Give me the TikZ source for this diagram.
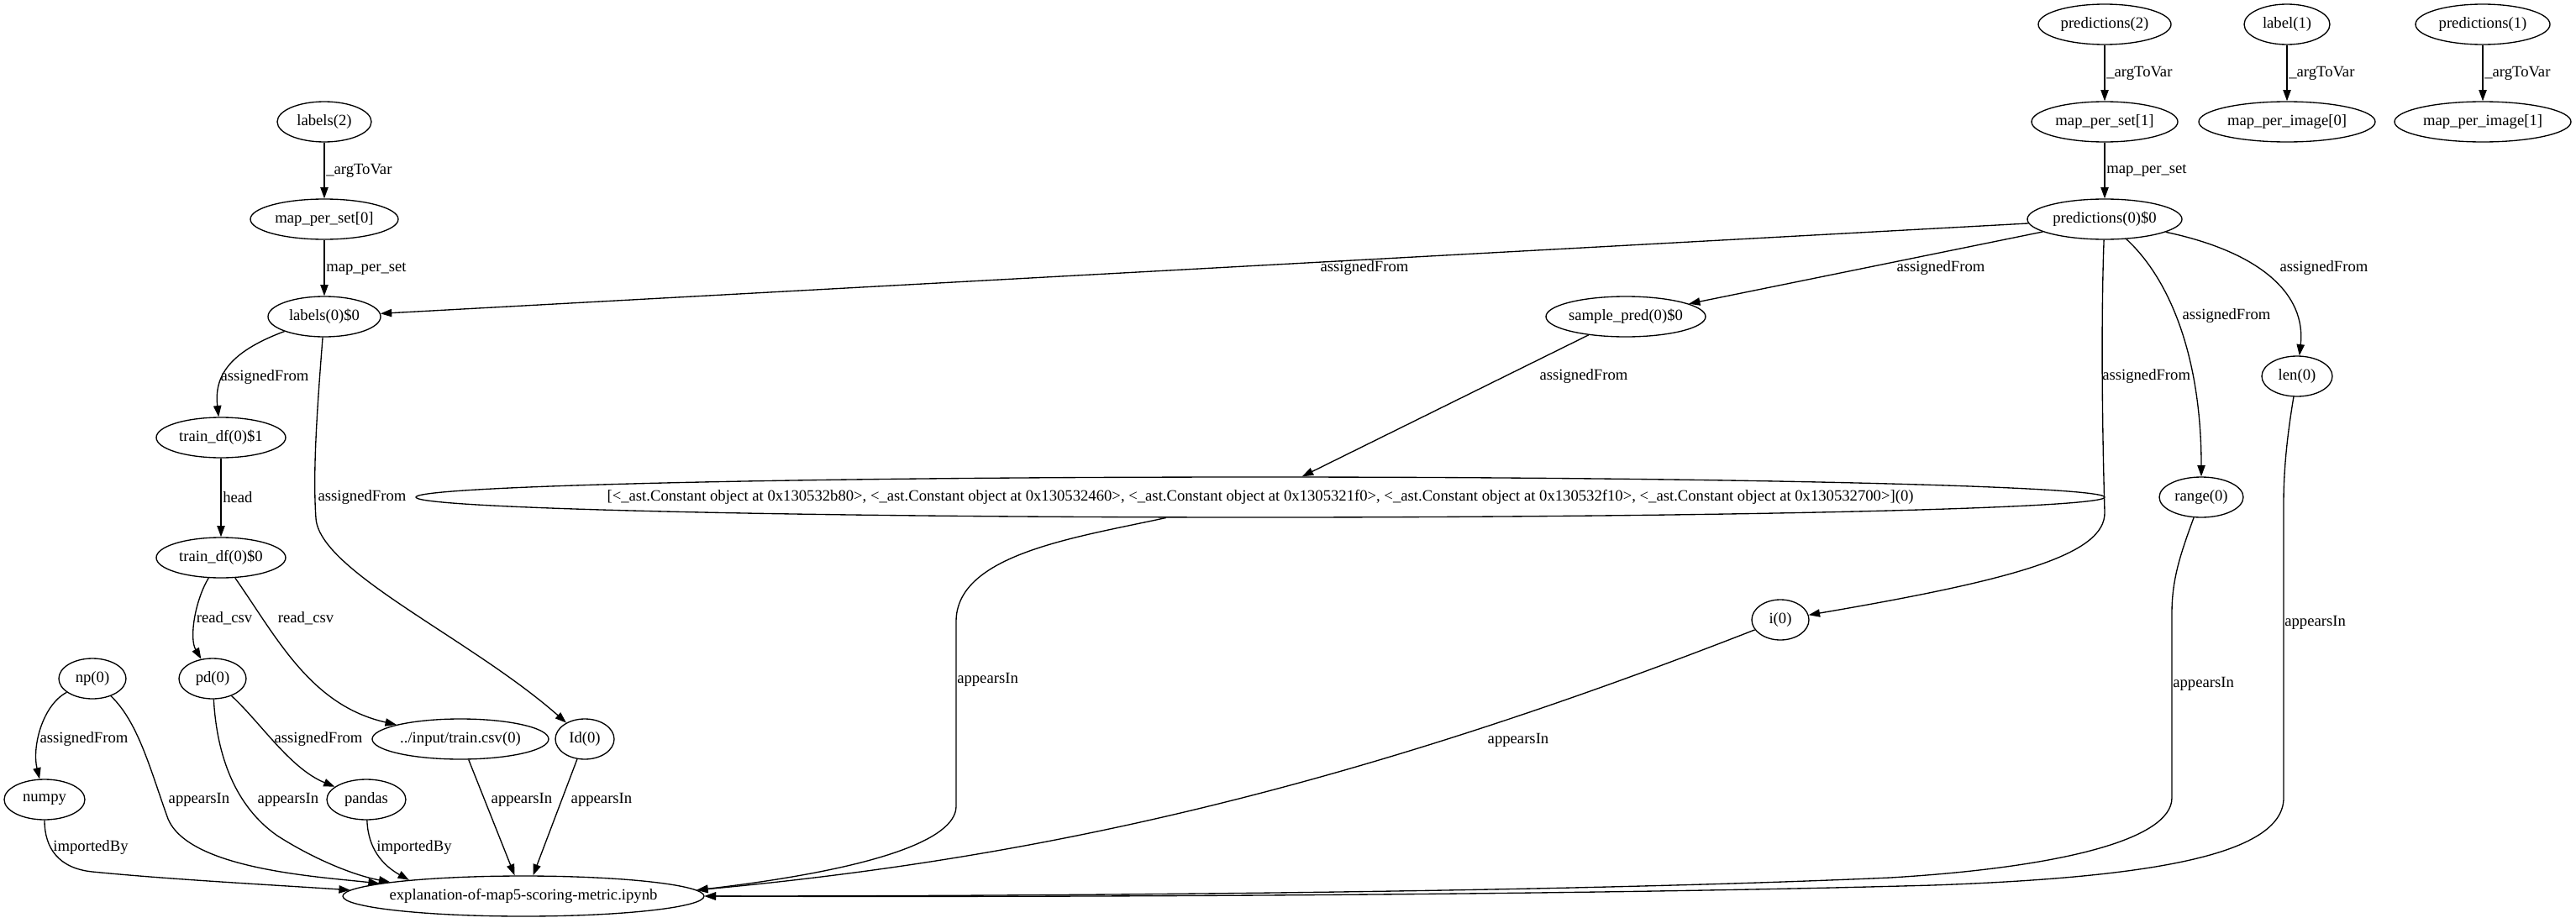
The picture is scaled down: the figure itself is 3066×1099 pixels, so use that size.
\documentclass[tikz,border=0pt]{standalone}
\usepackage{fontspec}
\setmainfont{Liberation Serif}
\usetikzlibrary{shapes.geometric,arrows.meta}
\newcommand\gvf{\fontsize{14pt}{16pt}\selectfont}
\tikzset{
  gv/.style={draw, ellipse, line width=1pt, inner sep=0pt, minimum height=36pt},
  gvt/.style={font=\gvf, inner sep=0pt},
  gvl/.style={font=\gvf, inner sep=0pt},
  gvedge/.style={draw, line width=1pt, -{Triangle[length=10pt,width=7pt]}},
}
\begin{document}
\begin{tikzpicture}[x=0.75pt, y=-0.75pt]
\useasboundingbox (0,0) rectangle (3066,1099);
% nodes (positions in reference pixels)
\node[gv, minimum width=118.5pt, label={[gvt]center:predictions(2)}] (pred2) at (2505,29) {};
\node[gv, minimum width=76.5pt, label={[gvt]center:label(1)}] (label1) at (2722,29) {};
\node[gv, minimum width=120pt, label={[gvt]center:predictions(1)}] (pred1) at (2955,29) {};
\node[gv, minimum width=84pt, label={[gvt]center:labels(2)}] (labels2) at (386,145) {};
\node[gv, minimum width=130.5pt, label={[gvt]center:map\_per\_set[1]}] (mps1) at (2505,145) {};
\node[gv, minimum width=157.5pt, label={[gvt]center:map\_per\_image[0]}] (mpi0) at (2722,145) {};
\node[gv, minimum width=157.5pt, label={[gvt]center:map\_per\_image[1]}] (mpi1) at (2955,145) {};
\node[gv, minimum width=132pt, label={[gvt]center:map\_per\_set[0]}] (mps0) at (386,261) {};
\node[gv, minimum width=138pt, label={[gvt]center:predictions(0)\$0}] (pred) at (2505,261) {};
\node[gv, minimum width=100.5pt, label={[gvt]center:labels(0)\$0}] (labels0) at (386,377) {};
\node[gv, minimum width=142.5pt, label={[gvt]center:sample\_pred(0)\$0}] (sample) at (1935,377) {};
\node[gv, minimum width=63pt, label={[gvt]center:len(0)}] (len) at (2734,448) {};
\node[gv, minimum width=115.5pt, label={[gvt]center:train\_df(0)\$1}] (train1) at (263,521) {};
\node[gv, minimum width=1507.5pt, label={[gvt]center:{[<\_ast.Constant object at 0x130532b80>, <\_ast.Constant object at 0x130532460>, <\_ast.Constant object at 0x1305321f0>, <\_ast.Constant object at 0x130532f10>, <\_ast.Constant object at 0x130532700>](0)}}] (big) at (1500,592) {};
\node[gv, minimum width=75pt, label={[gvt]center:range(0)}] (range) at (2620,592) {};
\node[gv, minimum width=115.5pt, label={[gvt]center:train\_df(0)\$0}] (train0) at (263,664) {};
\node[gv, minimum width=51pt, label={[gvt]center:i(0)}] (i) at (2119,738) {};
\node[gv, minimum width=60pt, label={[gvt]center:np(0)}] (np) at (110,808) {};
\node[gv, minimum width=60pt, label={[gvt]center:pd(0)}] (pd) at (253,808) {};
\node[gv, minimum width=157.5pt, label={[gvt]center:../input/train.csv(0)}] (csv) at (548,880) {};
\node[gv, minimum width=52.5pt, label={[gvt]center:Id(0)}] (Id) at (696,880) {};
\node[gv, minimum width=72pt, label={[gvt]center:numpy}] (numpy) at (53,952) {};
\node[gv, minimum width=70.5pt, label={[gvt]center:pandas}] (pandas) at (436,952) {};
\node[gv, minimum width=322.5pt, label={[gvt]center:explanation-of-map5-scoring-metric.ipynb}] (expl) at (623,1067) {};
% edge labels
\node[gvl, anchor=west] (l1) at (388,203) {\_argToVar};
\node[gvl, anchor=west] (l2) at (388,320) {map\_per\_set};
\node[gvl, anchor=west] (l3) at (2507,87) {\_argToVar};
\node[gvl, anchor=west] (l4) at (2724,87) {\_argToVar};
\node[gvl, anchor=west] (l5) at (2957,87) {\_argToVar};
\node[gvl, anchor=west] (l6) at (2507,203) {map\_per\_set};
\node[gvl] (l7) at (1624,319) {assignedFrom};
\node[gvl] (l8) at (2310,319) {assignedFrom};
\node[gvl] (l9) at (2766,319) {assignedFrom};
\node[gvl] (l10) at (2650,376) {assignedFrom};
\node[gvl, anchor=west] (l11) at (2502,448) {assignedFrom};
\node[gvl] (l12) at (1885,448) {assignedFrom};
\node[gvl] (l13) at (315,449) {assignedFrom};
\node[gvl, anchor=west] (l14) at (265,592) {head};
\node[gvl] (l15) at (431,592) {assignedFrom};
\node[gvl] (l16) at (267,736) {read\_csv};
\node[gvl] (l17) at (364,736) {read\_csv};
\node[gvl] (l18) at (100,880) {assignedFrom};
\node[gvl] (l19) at (379,880) {assignedFrom};
\node[gvl] (l20) at (237,952) {appearsIn};
\node[gvl] (l21) at (343,952) {appearsIn};
\node[gvl] (l22) at (621,952) {appearsIn};
\node[gvl] (l23) at (716,952) {appearsIn};
\node[gvl] (l24) at (108,1009) {importedBy};
\node[gvl] (l25) at (493,1009) {importedBy};
\node[gvl, anchor=west] (l26) at (1139,809) {appearsIn};
\node[gvl] (l27) at (1807,881) {appearsIn};
\node[gvl, anchor=west] (l28) at (2586,814) {appearsIn};
\node[gvl, anchor=west] (l29) at (2719,741) {appearsIn};
% edges
\draw[gvedge] (labels2) -- (mps0);
\draw[gvedge] (mps0) -- (labels0);
\draw[gvedge] (pred2) -- (mps1);
\draw[gvedge] (label1) -- (mpi0);
\draw[gvedge] (pred1) -- (mpi1);
\draw[gvedge] (mps1) -- (pred);
\draw[gvedge] (pred) -- (labels0);
\draw[gvedge] (pred) -- (sample);
\draw[gvedge] (sample) -- (big);
\draw[gvedge] (pred) .. controls (2500,400) and (2503,540) .. (2505,610) .. controls (2506,660) and (2400,690) .. (i);
\draw[gvedge] (pred) .. controls (2580,330) and (2620,420) .. (range);
\draw[gvedge] (pred) .. controls (2690,300) and (2745,350) .. (len);
\draw[gvedge] (labels0) .. controls (270,420) and (255,450) .. (train1);
\draw[gvedge] (train1) -- (train0);
\draw[gvedge] (labels0) .. controls (378,480) and (372,560) .. (376,617) .. controls (380,680) and (560,760) .. (Id);
\draw[gvedge] (train0) .. controls (232,715) and (225,760) .. (pd);
\draw[gvedge] (train0) .. controls (330,760) and (370,840) .. (csv);
\draw[gvedge] (np) .. controls (50,840) and (38,890) .. (numpy);
\draw[gvedge] (np) .. controls (165,860) and (180,920) .. (200,975) .. controls (225,1035) and (380,1044) .. (expl.175);
\draw[gvedge] (pd) .. controls (258,900) and (280,960) .. (330,995) .. controls (372,1022) and (420,1042) .. (expl.174);
\draw[gvedge] (pd) .. controls (310,860) and (345,915) .. (pandas);
\draw[gvedge] (pandas) .. controls (438,1010) and (455,1030) .. (expl.172);
\draw[gvedge] (numpy) .. controls (53,1010) and (70,1034) .. (110,1038) .. controls (200,1047) and (330,1054) .. (expl.178.5);
\draw[gvedge] (csv) -- (expl.113);
\draw[gvedge] (Id) -- (expl.65);
\draw[gvedge] (big) .. controls (1280,640) and (1138,660) .. (1138,740) -- (1138,960) .. controls (1138,1000) and (1040,1035) .. (expl.2.5);
\draw[gvedge] (i) .. controls (1587,946) and (1223,1023) .. (expl.2.5);
\draw[gvedge] (range) .. controls (2595,660) and (2585,690) .. (2585,730) -- (2585,950) .. controls (2585,1000) and (2450,1033) .. (2250,1045) .. controls (1800,1065) and (1100,1067) .. (expl.east);
\draw[gvedge] (len) .. controls (2722,520) and (2718,560) .. (2718,600) -- (2718,950) .. controls (2718,1020) and (2550,1045) .. (2300,1054) .. controls (1800,1068) and (1100,1068) .. (expl.east);
\end{tikzpicture}
\end{document}
